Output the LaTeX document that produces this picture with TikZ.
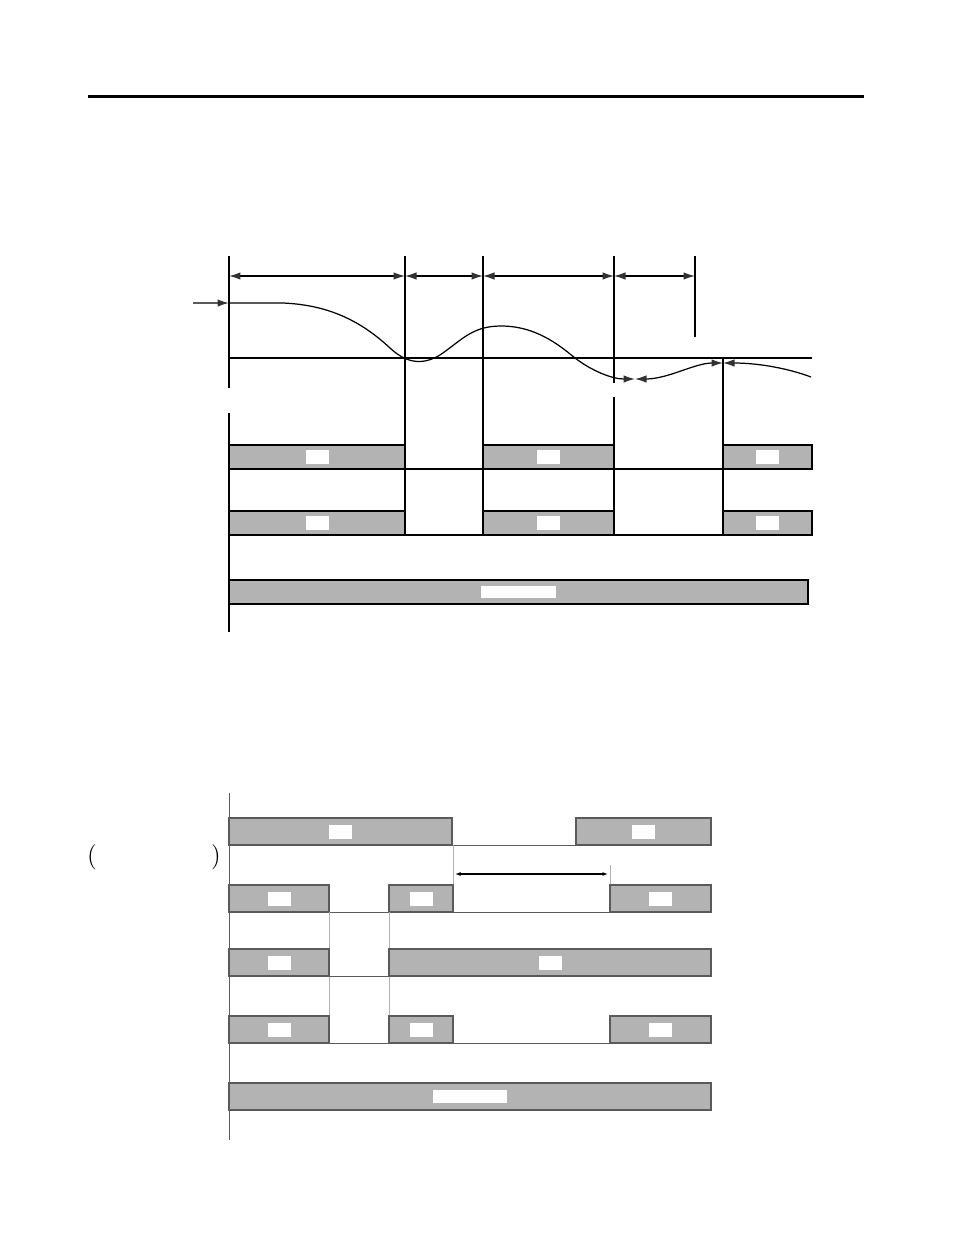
\documentclass[tikz,border=0pt]{standalone}
\usetikzlibrary{arrows.meta}
\definecolor{barfill}{RGB}{179,179,179}
\definecolor{lowline}{RGB}{90,90,90}
\definecolor{tipfill}{RGB}{50,50,50}
\begin{document}
\begin{tikzpicture}[x=0.02cm,y=-0.02cm,
  tip/.style={-{Latex[length=2.3mm,width=1.5mm,color=tipfill]}},
  rtip/.style={{Latex[length=2.3mm,width=1.5mm,color=tipfill]}-},
  dim/.style={{Latex[length=2.3mm,width=1.5mm,color=tipfill]}-{Latex[length=2.3mm,width=1.5mm,color=tipfill]}},
  bar/.style={draw=black,fill=barfill,line width=0.7pt},
  lbar/.style={draw=lowline,fill=barfill,line width=0.6pt},
  tag/.style={fill=white,inner sep=0pt,minimum width=0.46cm,minimum height=0.28cm},
  wtag/.style={fill=white,inner sep=0pt,minimum width=1.5cm,minimum height=0.25cm},
  edge/.style={line width=0.7pt},
  ledge/.style={draw=lowline,line width=0.5pt}]
 \useasboundingbox (0,0) rectangle (954,1235);
 % top rule
 \draw[line width=1.7pt] (88,96) -- (864,96);
 % upper chart: markers
 \draw[edge] (229,256) -- (229,388);
 \draw[edge] (229,413) -- (229,632);
 \draw[edge] (405,256) -- (405,535);
 \draw[edge] (483,256) -- (483,535);
 \draw[edge] (614,256) -- (614,383);
 \draw[edge] (614,397) -- (614,535);
 \draw[edge] (695,256) -- (695,337);
 \draw[edge] (723,358) -- (723,535);
 \coordinate (m1) at (229,276);
 \coordinate (m2) at (405,276);
 \coordinate (m3) at (483,276);
 \coordinate (m4) at (614,276);
 \coordinate (m5) at (695,276);
 \draw[edge,dim] (m1) -- (m2);
 \draw[edge,dim] (m2) -- (m3);
 \draw[edge,dim] (m3) -- (m4);
 \draw[edge,dim] (m4) -- (m5);
 % input and curve
 \coordinate (in) at (193,303);
 \coordinate (c0) at (229,303);
 \draw[line width=0.8pt,draw=lowline,tip] (in) -- (c0);
 \draw[edge] (229,358) -- (812,358);
 \draw[edge,tip] (c0) -- (283,303) .. controls (330,305) and (362,322) .. (390,348)
   .. controls (404,361) and (420,367) .. (440,355)
   .. controls (462,340) and (472,326) .. (501,326)
   .. controls (535,326) and (558,344) .. (575,358)
   .. controls (592,371) and (612,379) .. (635,379);
 \draw[edge,dim] (635,379) .. controls (668,379) and (695,363) .. (723,363);
 \draw[edge,rtip] (723,363) .. controls (760,363) and (790,369) .. (811,377);
 % upper chart: bars
 \draw[bar] (229,445) rectangle node[tag] (a1) {} (405,469);
 \draw[bar] (483,445) rectangle node[tag] (a2) {} (614,469);
 \draw[bar] (723,445) rectangle node[tag] (a3) {} (812,469);
 \draw[edge] (229,469) -- (812,469);
 \draw[bar] (229,511) rectangle node[tag] (b1) {} (405,535);
 \draw[bar] (483,511) rectangle node[tag] (b2) {} (614,535);
 \draw[bar] (723,511) rectangle node[tag] (b3) {} (812,535);
 \draw[edge] (229,535) -- (812,535);
 \draw[bar] (229,580) rectangle node[wtag] (c1) {} (808,604);
 % lower chart
 \node (lp) at (92,857) {\Large (};
 \node (rp) at (216,857) {\Large )};
 \draw[ledge] (229,793) -- (229,1140);
 \draw[lbar] (229,818) rectangle node[tag] (p1) {} (452,845);
 \draw[lbar] (576,818) rectangle node[tag] (p2) {} (711,845);
 \draw[ledge] (452,845) -- (576,845);
 \draw[ledge,draw=gray!60] (453,845) -- (453,885);
 \draw[ledge,draw=gray!60] (610,865) -- (610,885);
 \coordinate (s1) at (455,874);
 \coordinate (s2) at (608,874);
 \draw[line width=0.6pt,{Latex[length=1.1mm,width=0.8mm]}-{Latex[length=1.1mm,width=0.8mm]}] (s1) -- (s2);
 \draw[lbar] (229,885) rectangle node[tag] (q1) {} (329,912);
 \draw[lbar] (389,885) rectangle node[tag] (q2) {} (453,912);
 \draw[lbar] (610,885) rectangle node[tag] (q3) {} (711,912);
 \draw[ledge] (229,912) -- (711,912);
 \draw[ledge,draw=gray!60] (329,912) -- (329,1043);
 \draw[ledge,draw=gray!60] (389,912) -- (389,1043);
 \draw[lbar] (229,949) rectangle node[tag] (r1) {} (329,976);
 \draw[lbar] (389,949) rectangle node[tag] (r2) {} (711,976);
 \draw[ledge] (229,976) -- (711,976);
 \draw[lbar] (229,1016) rectangle node[tag] (u1) {} (329,1043);
 \draw[lbar] (389,1016) rectangle node[tag] (u2) {} (453,1043);
 \draw[lbar] (610,1016) rectangle node[tag] (u3) {} (711,1043);
 \draw[ledge] (229,1043) -- (711,1043);
 \draw[lbar] (229,1083) rectangle node[wtag] (v1) {} (711,1110);
\end{tikzpicture}
\end{document}
